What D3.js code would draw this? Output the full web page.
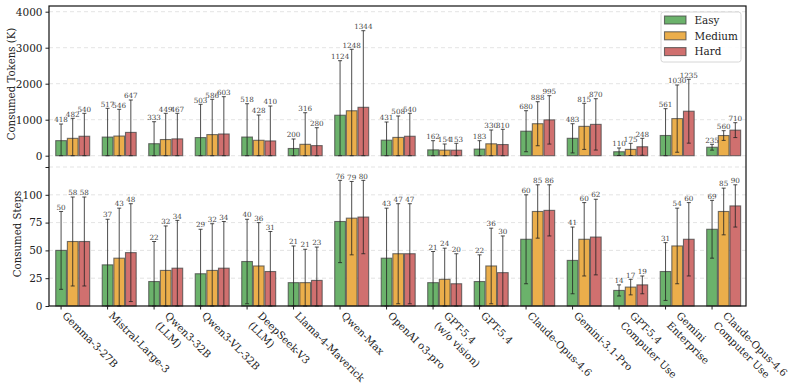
<!DOCTYPE html>
<html><head><meta charset="utf-8">
<script src="https://cdn.jsdelivr.net/npm/d3@7"></script>
<style>body{margin:0;background:#fff}svg{display:block}text{font-family:"DejaVu Serif",serif}</style>
</head><body><svg id="c" width="795" height="392"></svg>
<script>
const models = ["Gemma-3-27B","Mistral-Large-3","Qwen3-32B\n(LLM)","Qwen3-VL-32B","DeepSeek-V3\n(LLM)","Llama-4-Maverick","Qwen-Max","OpenAI o3-pro","GPT-5.4\n(w/o vision)","GPT-5.4","Claude-Opus-4.6","Gemini-3.1-Pro","GPT-5.4\nComputer Use","Gemini\nEnterprise","Claude-Opus-4.6\nComputer Use"];
const levels = ["Easy","Medium","Hard"];
const levelColors = ["#6bb26b","#ebae4b","#d0706f"];

// Consumed tokens (K): mean and std
const tokensEasy   = [418,517,333,503,518,200,1124,431,162,183,680,483,110,561,235];
const tokensMedium = [482,546,449,586,428,316,1248,508,154,330,888,815,175,1030,560];
const tokensHard   = [540,647,467,603,410,280,1344,540,153,310,995,870,248,1235,710];
const tokensEasyStd   = [462,799,611,924,926,264,1515,505,255,234,570,406,104,745,81];
const tokensMediumStd = [556,742,728,980,702,878,1707,595,171,384,612,640,169,934,135];
const tokensHardStd   = [637,900,710,1036,970,498,2128,637,191,423,672,713,235,887,207];

// Consumed steps: mean and std
const stepsEasy   = [50,37,22,29,40,21,76,43,21,22,60,41,14,31,69];
const stepsMedium = [58,43,32,32,36,21,79,47,24,36,85,60,17,54,85];
const stepsHard   = [58,48,34,34,31,23,80,47,20,30,86,62,19,60,90];
const stepsEasyStd   = [35,41,36,40,38,33,37,45,28,24,40,30,5,26,26];
const stepsMediumStd = [40,45,40,42,39,30,33,45,28,34,24,33,7,34,21];
const stepsHardStd   = [40,44,43,42,36,30,33,45,27,33,23,34,8,33,19];

const tokenTicks = [0,1000,2000,3000,4000];
const stepTicks = [0,25,50,75,100,125];
const stepTickLabels = ["0","25","50","75","100",""];

const svg = d3.select("#c");
const L = 49, R = 746, T = 6, MID = 162, B = 306;
const FS = 10.2;
const x = d3.scaleLinear().domain([-0.26, 14.73]).range([L, R]);
const yTop = d3.scaleLinear().domain([-175, 4158]).range([MID, T]);
const yBot = d3.scaleLinear().domain([0, 129.5]).range([B, MID]);
const barOff = 0.25, barW = 0.23;

function panel(y, means, stds, ticks, tickLabels, grids, ylabel, ylabelX) {
  const g = svg.append("g");
  g.selectAll("line.grid").data(grids).join("line")
    .attr("x1", L).attr("x2", R).attr("y1", d => y(d)).attr("y2", d => y(d))
    .attr("stroke", "#dcdcdc").attr("stroke-width", 0.8).attr("stroke-dasharray", "4,3");
  const ax = d3.axisLeft(y).tickValues(ticks).tickFormat((d, i) => tickLabels[i]).tickSize(3.5).tickPadding(3);
  const ag = g.append("g").attr("transform", `translate(${L},0)`).call(ax);
  ag.select(".domain").remove();
  ag.selectAll("text").attr("font-size", FS + 0.3).attr("fill", "#222").style("font-family", '"DejaVu Serif",serif');
  ag.selectAll("line").attr("stroke", "#222");
  means.forEach((arr, k) => {
    const off = k * barOff;
    g.append("g").selectAll("rect").data(arr).join("rect")
      .attr("x", (d, i) => x(i + off - barW / 2))
      .attr("width", x(barW) - x(0))
      .attr("y", d => y(d)).attr("height", d => y(0) - y(d))
      .attr("fill", levelColors[k])
      .attr("stroke", "#444").attr("stroke-opacity", 0.75).attr("stroke-width", 1.1);
  });
  means.forEach((arr, k) => {
    const off = k * barOff;
    const sd = stds[k];
    const ge = g.append("g").attr("stroke", "#222").attr("stroke-opacity", 0.8).attr("stroke-width", 1);
    arr.forEach((m, i) => {
      const cx = x(i + off);
      const lo = Math.max(0, m - sd[i]), hi = m + sd[i];
      ge.append("line").attr("x1", cx).attr("x2", cx).attr("y1", y(lo)).attr("y2", y(hi));
      ge.append("line").attr("x1", cx - 2).attr("x2", cx + 2).attr("y1", y(lo)).attr("y2", y(lo));
      ge.append("line").attr("x1", cx - 2).attr("x2", cx + 2).attr("y1", y(hi)).attr("y2", y(hi));
      g.append("text").attr("x", cx).attr("y", y(hi) - 1.8)
        .attr("text-anchor", "middle").attr("font-size", 7.2).attr("fill", "#444").text(m);
    });
  });
  const ym = (y.range()[0] + y.range()[1]) / 2;
  svg.append("text").attr("transform", `translate(${ylabelX},${ym}) rotate(-90)`)
    .attr("text-anchor", "middle").attr("font-size", FS).attr("fill", "#222").text(ylabel);
}

panel(yTop, [tokensEasy, tokensMedium, tokensHard], [tokensEasyStd, tokensMediumStd, tokensHardStd],
  tokenTicks, tokenTicks.map(String), tokenTicks, "Consumed Tokens (K)", 15);
panel(yBot, [stepsEasy, stepsMedium, stepsHard], [stepsEasyStd, stepsMediumStd, stepsHardStd],
  stepTicks, stepTickLabels, stepTicks.slice(1), "Consumed Steps", 21);

svg.append("rect").attr("x", L).attr("y", T).attr("width", R - L).attr("height", B - T)
  .attr("fill", "none").attr("stroke", "#111").attr("stroke-width", 1.2);

const xg = svg.append("g");
models.forEach((m, i) => {
  const tx = x(i);
  xg.append("line").attr("x1", tx).attr("x2", tx).attr("y1", B).attr("y2", B + 3.5).attr("stroke", "#222");
  const lines = m.split("\n");
  const lh = 13.5;
  const ox = tx + 7 + 0.707 * lh * (lines.length - 1);
  const t = xg.append("g").attr("transform", `translate(${ox},${B + 4}) rotate(45)`);
  lines.forEach((ln, j) => {
    t.append("text").attr("x", 0).attr("y", 9 + j * lh).attr("font-size", FS).attr("fill", "#222").text(ln);
  });
});

const lg = svg.append("g");
lg.append("rect").attr("x", 661).attr("y", 12).attr("width", 80).attr("height", 50).attr("rx", 2.5)
  .attr("fill", "#fff").attr("fill-opacity", 0.85).attr("stroke", "#ccc").attr("stroke-width", 0.8);
levels.forEach((lv, k) => {
  const cy = 20 + k * 15.8;
  lg.append("rect").attr("x", 664.5).attr("y", cy - 4).attr("width", 21.5).attr("height", 8)
    .attr("fill", levelColors[k]).attr("stroke", "#444").attr("stroke-opacity", 0.75).attr("stroke-width", 1.1);
  lg.append("text").attr("x", 694.5).attr("y", cy + 3.8).attr("font-size", 10.4).attr("fill", "#222").text(lv);
});
</script></body></html>
